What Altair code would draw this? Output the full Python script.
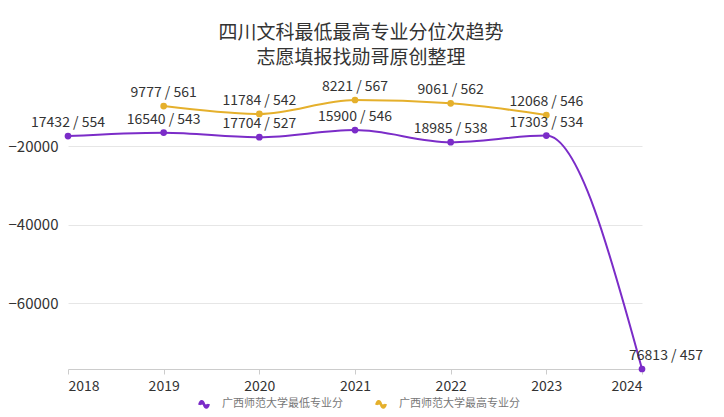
import altair as alt
import pandas as pd

years = [2018, 2019, 2020, 2021, 2022, 2023, 2024]
min_rank = [17432, 16540, 17704, 15900, 18985, 17303, 76813]
min_score = [554, 543, 527, 546, 538, 534, 457]
max_years = [2019, 2020, 2021, 2022, 2023]
max_rank = [9777, 11784, 8221, 9061, 12068]
max_score = [561, 542, 567, 562, 546]

s_min = "广西师范大学最低专业分"
s_max = "广西师范大学最高专业分"

rows = []
for y, r, s in zip(years, min_rank, min_score):
    rows.append({"year": y, "value": -r, "series": s_min, "label": f"{r} / {s}"})
for y, r, s in zip(max_years, max_rank, max_score):
    rows.append({"year": y, "value": -r, "series": s_max, "label": f"{r} / {s}"})
df = pd.DataFrame(rows)

font = "Noto Sans CJK SC"
wave = "M-1,0.1 C-0.75,-0.9 -0.25,-0.9 0,0 C0.25,0.9 0.75,0.9 1,-0.1"

x = alt.X("year:Q", scale=alt.Scale(domain=[2018, 2024], nice=False),
          axis=alt.Axis(values=years, format="d", title=None, grid=False,
                        labelFontSize=14, labelColor="#333", labelPadding=5,
                        domainColor="#ccc", tickColor="#ccc", tickSize=5,
                        labelFont=font))
y = alt.Y("value:Q", scale=alt.Scale(domain=[-76813, -8221], nice=False, zero=False),
          axis=alt.Axis(values=[-20000, -40000, -60000], format="d", title=None,
                        domain=False, ticks=False, labelFontSize=15,
                        labelColor="#333", labelPadding=10, gridColor="#e6e6e6",
                        labelFont=font))
color = alt.Color("series:N",
                  scale=alt.Scale(domain=[s_min, s_max], range=["#7b2cc8", "#e5b02c"]),
                  legend=alt.Legend(title=None, orient="none", direction="horizontal",
                                    legendX=130, legendY=298, symbolType=wave,
                                    symbolSize=90, symbolStrokeWidth=2.5,
                                    symbolFillColor="transparent",
                                    labelFontSize=11, labelColor="#777",
                                    labelFont=font, columnPadding=28,
                                    symbolOffset=0, labelOffset=12))

base = alt.Chart(df)
lines = base.mark_line(interpolate="monotone", strokeWidth=2).encode(x=x, y=y, color=color)
points = base.mark_circle(size=45, opacity=1).encode(x=x, y=y, color=alt.Color("series:N", legend=None))
labels = base.transform_filter(alt.datum.year < 2024).mark_text(
    dy=-6, baseline="bottom", fontSize=14, color="#333", font=font
).encode(x=x, y=y, text="label:N")
last_label = base.transform_filter(alt.datum.year == 2024).mark_text(
    dy=-6, dx=24, baseline="bottom", fontSize=14, color="#333", font=font
).encode(x=x, y=y, text="label:N")

chart = alt.layer(lines, points, labels, last_label).properties(
    width=574, height=269,
    title=alt.TitleParams(text=["四川文科最低最高专业分位次趋势", "志愿填报找勋哥原创整理"],
                          anchor="middle", fontSize=19, fontWeight="normal",
                          color="#333", font=font, lineHeight=25, offset=12, dx=6),
    autosize=alt.AutoSizeParams(type="none"),
    padding={"left": 60, "top": 92, "right": 74, "bottom": 48},
).configure_view(stroke=None)

chart.save("out.html", embed_options={"renderer": "svg", "actions": False})
